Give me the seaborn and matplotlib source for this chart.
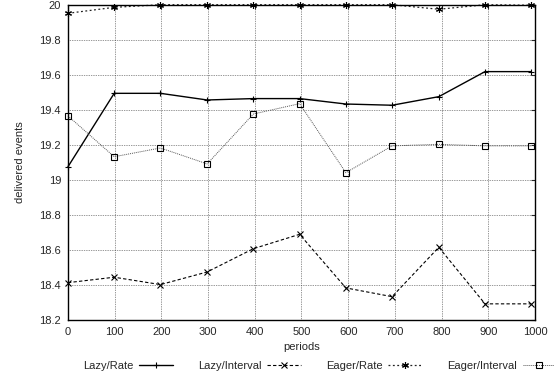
import pandas as pd
import matplotlib.pyplot as plt
import seaborn as sns

periods = [0, 99, 198, 298, 397, 496, 595, 694, 794, 893, 992]
lazy_rate = [19.075, 19.494, 19.494, 19.456, 19.464, 19.464, 19.433, 19.426, 19.475, 19.618, 19.618]
lazy_interval = [18.413, 18.444, 18.402, 18.474, 18.607, 18.689, 18.383, 18.333, 18.615, 18.292, 18.292]
eager_rate = [19.951, 19.985, 20.0, 20.0, 20.0, 20.0, 20.0, 20.0, 19.974, 20.0, 19.997]
eager_interval = [19.365, 19.132, 19.182, 19.091, 19.376, 19.435, 19.041, 19.194, 19.203, 19.194, 19.194]

series = ['Lazy/Rate', 'Lazy/Interval', 'Eager/Rate', 'Eager/Interval']
values = [lazy_rate, lazy_interval, eager_rate, eager_interval]

data = pd.DataFrame({
    'periods': periods * 4,
    'delivered events': sum(values, []),
    'series': [s for s in series for _ in periods],
})

sns.set_style('white')
plt.rcParams['font.family'] = ['Liberation Sans', 'DejaVu Sans']
plt.rcParams['font.size'] = 8

fig = plt.figure(figsize=(5.54, 3.8), dpi=100)
ax = fig.add_axes([0.1227, 0.158, 0.843, 0.8296])

styles = {
    'Lazy/Rate': dict(color='black', ls='-', marker='+', lw=1.0),
    'Lazy/Interval': dict(color='black', ls=(0, (3, 2)), marker='x', lw=0.8),
    'Eager/Rate': dict(color='#222222', ls=(0, (1.5, 2)), marker=(6, 2, 0), lw=0.9),
    'Eager/Interval': dict(color='#555555', ls=(0, (1, 1)), marker='s', lw=0.7),
}

for name in series:
    st = styles[name]
    sub = data[data['series'] == name]
    sns.lineplot(data=sub, x='periods', y='delivered events', ax=ax, label=name,
                 color=st['color'], linestyle=st['ls'], lw=st['lw'],
                 marker=st['marker'], markersize=5, markerfacecolor='none',
                 markeredgecolor='black', markeredgewidth=0.8, clip_on=False)

ax.set_xlim(0, 1000)
ax.set_ylim(18.2, 20)
ax.set_xticks(range(0, 1001, 100))
ax.set_yticks([18.2 + 0.2 * i for i in range(10)])
ax.set_yticklabels(['18.2', '18.4', '18.6', '18.8', '19', '19.2', '19.4', '19.6', '19.8', '20'])
ax.grid(True, color='#333333', linestyle=(0, (1, 1.5)), lw=0.5)
for sp in ax.spines.values():
    sp.set_color('black')
    sp.set_linewidth(1.0)
ax.tick_params(direction='in', length=3, labelsize=8, top=True, right=True, pad=5)
ax.set_xlabel('periods', fontsize=8, labelpad=4)
ax.set_ylabel('delivered events', fontsize=8, labelpad=10)

ax.legend(loc='center', bbox_to_anchor=(0.577, 0.037), bbox_transform=fig.transFigure,
          ncol=4, frameon=False, markerfirst=False, fontsize=8,
          handlelength=3, columnspacing=2.3, handletextpad=0.5)

plt.savefig('out.png', dpi=100)
